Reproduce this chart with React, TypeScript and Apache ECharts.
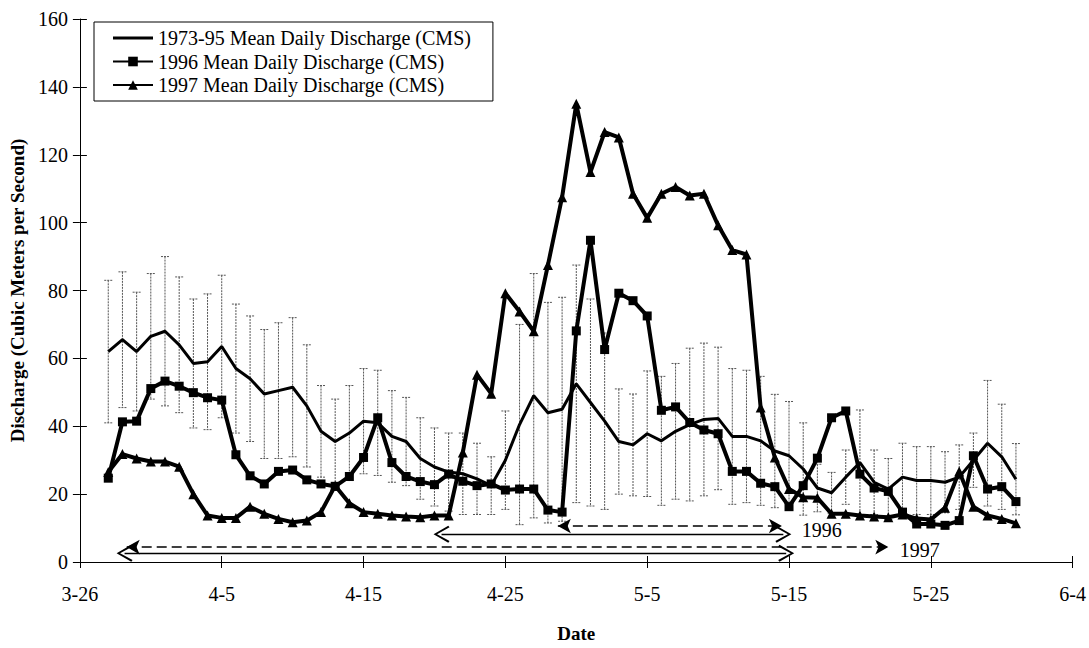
import React, { useEffect, useRef } from "react";
import * as echarts from "echarts";

// ---------- data ----------
const dates = [
  "3-28","3-29","3-30","3-31",
  "4-1","4-2","4-3","4-4","4-5","4-6","4-7","4-8","4-9","4-10",
  "4-11","4-12","4-13","4-14","4-15","4-16","4-17","4-18","4-19","4-20",
  "4-21","4-22","4-23","4-24","4-25","4-26","4-27","4-28","4-29","4-30",
  "5-1","5-2","5-3","5-4","5-5","5-6","5-7","5-8","5-9","5-10",
  "5-11","5-12","5-13","5-14","5-15","5-16","5-17","5-18","5-19","5-20",
  "5-21","5-22","5-23","5-24","5-25","5-26","5-27","5-28","5-29","5-30","5-31",
];

const mean7395 = [
  62, 65.5, 62, 66.5,
  68, 64, 58.5, 59, 63.5, 57, 54, 49.5, 50.5, 51.5,
  46, 38.5, 35.5, 38, 41.5, 41, 37, 35.5, 30.5, 28,
  26.5, 26, 24.5, 22.5, 30, 40.5, 49, 44, 45, 52.5,
  47, 41.5, 35.5, 34.5, 37.8, 35.7, 38.5, 40.5, 42, 42.3,
  37, 37, 35.7, 32.7, 31.3, 27.4, 21.8, 20.4, 25, 29.3,
  23.5, 21.5, 25, 24, 24, 23.5, 25, 30, 35, 31, 24.4,
];

const std7395 = [
  21, 20, 17.5, 18.5,
  22, 20, 19, 20, 21, 19, 18.5, 19, 20, 20.5,
  18, 13.5, 12.5, 14, 15.5, 15.5, 13.5, 13, 12, 11.5,
  11.5, 12, 10.5, 8.5, 14.5, 29.5, 36, 32.5, 33, 35,
  30.5, 26, 15.5, 15, 18.5, 19, 20, 22.5, 22.5, 21,
  20, 19.5, 19, 16.7, 16, 13.6, 7, 6, 8, 15.5,
  9.5, 9, 10, 10, 10, 9, 9.5, 8, 18.5, 15.5, 10.5,
];

const flow1996 = [
  24.7, 41.3, 41.5, 51.1,
  53.3, 51.8, 49.9, 48.4, 47.7, 31.6, 25.4, 23, 26.7, 27.1,
  24.2, 23, 22.3, 25.2, 30.8, 42.5, 29.3, 25.2, 23.7, 22.8,
  25.9, 23.8, 22.5, 23, 21.2, 21.5, 21.5, 15.3, 14.7, 68.1,
  94.8, 62.6, 79.2, 77, 72.5, 44.7, 45.7, 41.1, 38.9, 37.8,
  26.7, 26.7, 23.2, 22.2, 16.3, 22.5, 30.6, 42.5, 44.5, 25.9,
  21.8, 20.8, 14.7, 11.2, 11.2, 10.8, 12.2, 31.3, 21.5, 22.2, 17.8,
];

const flow1997 = [
  26.5, 31.8, 30.5, 29.6,
  29.6, 28.1, 20, 13.7, 13, 13, 16.3, 14.2, 12.7, 11.7,
  12.2, 14.7, 22.5, 17.3, 14.7, 14.2, 13.7, 13.4, 13.2, 13.7,
  13.7, 32.3, 55.2, 49.6, 79.2, 73.8, 68, 87.5, 107.5, 135,
  114.9, 126.7, 125.1, 108.5, 101.4, 108.5, 110.5, 108, 108.5, 99.2,
  91.9, 90.6, 45.5, 30.8, 21.5, 19.1, 18.9, 14.2, 14.2, 13.7,
  13.4, 13.2, 14, 12.8, 12.5, 16, 26.7, 16.3, 13.7, 12.7, 11.4,
];

const xTickLabels = ["3-26", "4-5", "4-15", "4-25", "5-5", "5-15", "5-25", "6-4"];

const seriesNames = [
  "1973-95 Mean Daily Discharge (CMS)",
  "1996 Mean Daily Discharge (CMS)",
  "1997 Mean Daily Discharge (CMS)",
];

// period arrows (in days after 3-26, at discharge level)
const arrowFrom = [33.7, 25.5, 3.3, 3.15];
const arrowTo = [49.5, 49.6, 57.0, 49.8];
const arrowLevel = [10.6, 8.2, 4.4, 2.6];
const arrowDashed = [true, false, true, false];

const periodLabels = ["1996", "1997"];
const periodLabelDay = [50.9, 57.8];
const periodLabelLevel = [9.4, 3.5];

// ---------- helpers ----------
function dayOffset(md: string): number {
  const [m, d] = md.split("-").map(Number);
  if (m === 3) return d - 26;
  if (m === 4) return 5 + d;
  if (m === 5) return 35 + d;
  return 66 + d;
}

const FONT = "'Liberation Serif', 'Times New Roman', serif";
const OPEN_ARROW = "path://M5,0 L10,9.2 L9,10 L5,2.2 L1,10 L0,9.2 Z";
const LINE_ICON = "path://M0,0 L40,0 L40,3.2 L0,3.2 Z";

export default function App() {
  const ref = useRef<HTMLDivElement>(null);

  useEffect(() => {
    if (!ref.current) return;
    const chart = echarts.init(ref.current, undefined, { renderer: "svg" });
    const xs = dates.map(dayOffset);

    const errData = xs.map((x, i) => [x, mean7395[i] - std7395[i], mean7395[i] + std7395[i]]);

    const markLineData = arrowFrom.map((f, i) => {
      const dashed = arrowDashed[i];
      const sym = dashed ? "arrow" : OPEN_ARROW;
      const size = dashed ? [11, 13] : [17, 16];
      const ls = { type: dashed ? [10, 5] : "solid", width: dashed ? 1.6 : 1.4, color: "#000" };
      return [
        { coord: [f, arrowLevel[i]], symbol: sym, symbolSize: size, lineStyle: ls },
        { coord: [arrowTo[i], arrowLevel[i]], symbol: sym, symbolSize: size, lineStyle: ls },
      ];
    });

    const markPointData = periodLabels.map((t, i) => ({
      coord: [periodLabelDay[i], periodLabelLevel[i]],
      value: t,
    }));

    const axisLabelStyle = { fontFamily: FONT, fontSize: 20, color: "#000" };

    const option: any = {
      animation: false,
      backgroundColor: "#fff",
      grid: { left: 73, right: 14, top: 19, bottom: 83 },
      legend: {
        data: [
          { name: seriesNames[0], icon: LINE_ICON },
          { name: seriesNames[1] },
          { name: seriesNames[2] },
        ],
        orient: "vertical",
        left: 94,
        top: 22,
        padding: [6, 22, 6, 18],
        itemGap: 3.5,
        itemWidth: 40,
        itemHeight: 12,
        borderColor: "#000",
        borderWidth: 1,
        backgroundColor: "#fff",
        textStyle: { fontFamily: FONT, fontSize: 20, color: "#000", lineHeight: 20 },
      },
      xAxis: [
        {
          type: "value",
          min: 0,
          max: 70,
          interval: 10,
          axisLine: { show: true, lineStyle: { color: "#000", width: 1 } },
          axisTick: { show: true, length: 6, lineStyle: { color: "#000" } },
          axisLabel: {
            ...axisLabelStyle,
            margin: 22,
            formatter: (v: number) => xTickLabels[Math.round(v / 10)] ?? "",
          },
          splitLine: { show: false },
          name: "Date",
          nameLocation: "middle",
          nameGap: 62,
          nameTextStyle: { fontFamily: FONT, fontSize: 19, fontWeight: "bold", color: "#000" },
        },
        {
          type: "value",
          position: "bottom",
          min: 0,
          max: 70,
          interval: 10,
          axisLine: { show: false },
          axisTick: { show: true, inside: true, length: 6, lineStyle: { color: "#000" } },
          axisLabel: { show: false },
          splitLine: { show: false },
        },
      ],
      yAxis: [
        {
          type: "value",
          min: 0,
          max: 160,
          interval: 20,
          axisLine: { show: true, lineStyle: { color: "#000", width: 1 } },
          axisTick: { show: true, length: 7, lineStyle: { color: "#000" } },
          axisLabel: { ...axisLabelStyle, margin: 12 },
          splitLine: { show: false },
          name: "Discharge (Cubic Meters per Second)",
          nameLocation: "middle",
          nameGap: 46,
          nameTextStyle: { fontFamily: FONT, fontSize: 19, fontWeight: "bold", color: "#000" },
        },
        {
          type: "value",
          position: "left",
          min: 0,
          max: 160,
          interval: 20,
          axisLine: { show: false },
          axisTick: { show: true, inside: true, length: 7, lineStyle: { color: "#000" } },
          axisLabel: { show: false },
          splitLine: { show: false },
        },
      ],
      series: [
        {
          name: "errorbars",
          type: "custom",
          z: 1,
          silent: true,
          data: errData,
          encode: { x: 0, y: [1, 2] },
          renderItem: (params: any, api: any) => {
            const x = api.value(0);
            const lo = api.coord([x, api.value(1)]);
            const hi = api.coord([x, api.value(2)]);
            const w = 4;
            const st = { stroke: "#555", lineWidth: 1, lineDash: [2, 1] };
            return {
              type: "group",
              children: [
                { type: "line", shape: { x1: hi[0], y1: hi[1], x2: lo[0], y2: lo[1] }, style: st },
                { type: "line", shape: { x1: hi[0] - w, y1: hi[1], x2: hi[0] + w, y2: hi[1] }, style: st },
                { type: "line", shape: { x1: lo[0] - w, y1: lo[1], x2: lo[0] + w, y2: lo[1] }, style: st },
              ],
            };
          },
          markLine: {
            silent: true,
            animation: false,
            label: { show: false },
            data: markLineData,
          },
          markPoint: {
            silent: true,
            symbol: "circle",
            symbolSize: 0,
            itemStyle: { color: "transparent" },
            label: {
              show: true,
              position: "right",
              distance: 0,
              formatter: (p: any) => p.value,
              fontFamily: FONT,
              fontSize: 20,
              color: "#000",
            },
            data: markPointData,
          },
        },
        {
          name: seriesNames[0],
          type: "line",
          z: 3,
          data: xs.map((x, i) => [x, mean7395[i]]),
          symbol: "none",
          lineStyle: { color: "#000", width: 3 },
          itemStyle: { color: "#000" },
        },
        {
          name: seriesNames[1],
          type: "line",
          z: 4,
          data: xs.map((x, i) => [x, flow1996[i]]),
          symbol: "rect",
          symbolSize: 9,
          lineStyle: { color: "#000", width: 4 },
          itemStyle: { color: "#000" },
        },
        {
          name: seriesNames[2],
          type: "line",
          z: 5,
          data: xs.map((x, i) => [x, flow1997[i]]),
          symbol: "triangle",
          symbolSize: 10,
          lineStyle: { color: "#000", width: 4 },
          itemStyle: { color: "#000" },
        },
      ],
    };

    chart.setOption(option);
    return () => chart.dispose();
  }, []);

  return (
    <div
      ref={ref}
      style={{ position: "fixed", left: 0, top: 0, width: 1089, height: 648, background: "#fff" }}
    />
  );
}
